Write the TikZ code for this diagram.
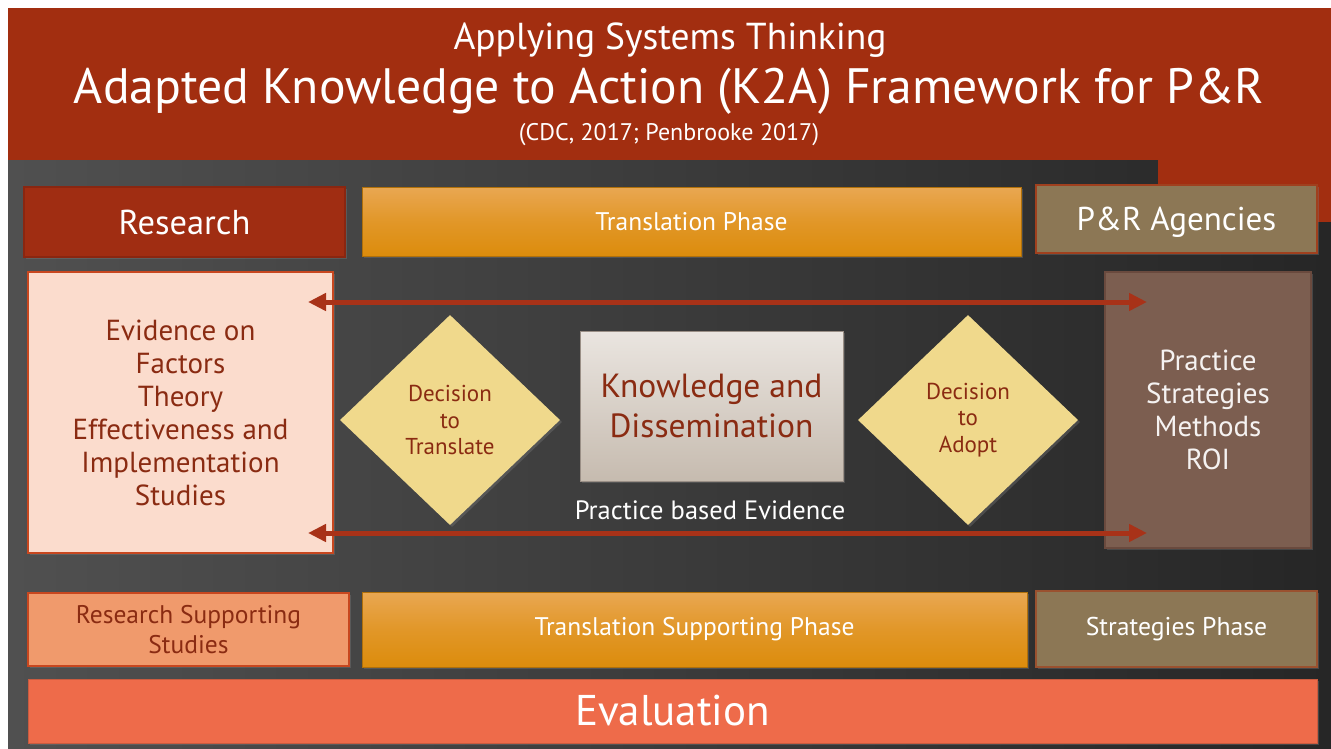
\documentclass[tikz,border=0pt]{standalone}
\usepackage{fontspec}
\setmainfont{PT Sans}
\usetikzlibrary{shapes.geometric,arrows.meta,shadows}
\definecolor{bannerred}{HTML}{A22E10}
\definecolor{resred}{HTML}{A02D12}
\definecolor{resborder}{HTML}{8A2610}
\definecolor{orangetop}{HTML}{E9A752}
\definecolor{orangebot}{HTML}{DC8C0C}
\definecolor{agency}{HTML}{8C7755}
\definecolor{agborder}{HTML}{A0401E}
\definecolor{evfill}{HTML}{FBDCCD}
\definecolor{evborder}{HTML}{C8471F}
\definecolor{practfill}{HTML}{7C5E50}
\definecolor{practborder}{HTML}{6A4A3E}
\definecolor{diam}{HTML}{F0D98C}
\definecolor{kntop}{HTML}{EAE5E0}
\definecolor{knbot}{HTML}{C6BBAF}
\definecolor{knborder}{HTML}{9A8F86}
\definecolor{darktext}{HTML}{8A2B12}
\definecolor{salmon}{HTML}{F09A6C}
\definecolor{evalfill}{HTML}{EE6B4A}
\definecolor{arrowred}{HTML}{A83218}
\definecolor{bgl}{HTML}{505050}
\definecolor{bgr}{HTML}{262626}
\tikzset{
  fs/.style n args={2}{font=\fontsize{#1}{#2}\selectfont},
  nodepth/.style={text depth=0pt},
  boxbase/.style={rectangle, inner sep=0pt, align=center, line width=1.2pt, drop shadow={opacity=0.35, shadow xshift=2pt, shadow yshift=-2pt}},
  redbox/.style={boxbase, fill=resred, draw=resborder, text=white},
  orangebox/.style={boxbase, top color=orangetop, bottom color=orangebot, middle color=orangebot!60!orangetop, draw=orangebot!80!black, line width=0.6pt, text=white},
  agencybox/.style={boxbase, fill=agency, draw=agborder, text=white},
  decision/.style={diamond, fill=diam, inner sep=0pt, minimum width=220pt, minimum height=210pt, align=center, text=darktext, fs={23}{26.5}},
  link/.style={draw=arrowred, line width=5pt, {Triangle[length=18pt,width=17pt]}-{Triangle[length=18pt,width=17pt]}, shorten <=-2pt, shorten >=-2pt},
}
\begin{document}
\begin{tikzpicture}[x=1pt,y=-1pt]
\fill[white] (0,0) rectangle (1331,748);
\useasboundingbox (0,0) rectangle (1331,748);
% dark background
\shade[left color=bgl, right color=bgr] (8,160) rectangle (1331,748);
% banner
\fill[bannerred] (8,8) rectangle (1331,160);
\fill[bannerred] (1158,159) rectangle (1331,222);
% titles
\node[text=white, fs={37.5}{42}] (t1) at (670,40) {Applying Systems Thinking};
\node[text=white, fs={49.7}{56}] (t2) at (669,91) {Adapted Knowledge to Action (K2A) Framework for P\&R};
\node[text=white, fs={24}{28}] (t3) at (669,135) {(CDC, 2017; Penbrooke 2017)};
% top row
\node[redbox, minimum width=321pt, minimum height=70pt, fs={34.5}{40}] (res) at (184.5,222) {Research};
\node[orangebox, minimum width=659pt, minimum height=69pt, fs={25.5}{30}] (tp) at (691.5,221.5) {Translation Phase};
\node[agencybox, nodepth, minimum width=281pt, minimum height=68pt, fs={33}{38}] (pr) at (1176.5,219) {P\&R Agencies};
% middle
\node[boxbase, fill=evfill, draw=evborder, minimum width=305pt, minimum height=281pt, text=darktext, fs={29}{33}] (ev) at (180.5,412.5) {Evidence on\\Factors\\Theory\\Effectiveness and\\Implementation\\Studies};
\node[boxbase, fill=practfill, draw=practborder, minimum width=206pt, minimum height=276pt, text=white!92!practfill, fs={29}{33}] (pa) at (1208,410) {Practice\\Strategies\\Methods\\ROI};
\node[decision, drop shadow={opacity=0.35, shadow xshift=2pt, shadow yshift=-2pt}] (dt) at (450,420) {Decision\\to\\Translate};
\node[decision, drop shadow={opacity=0.35, shadow xshift=2pt, shadow yshift=-2pt}] (da) at (968,420) {Decision\\to\\Adopt};
\node[boxbase, top color=kntop, bottom color=knbot, draw=knborder, line width=0.8pt, minimum width=263pt, minimum height=150pt, text=darktext, fs={33.5}{40}] (kn) at (711.5,406) {Knowledge and\\Dissemination};
\node[text=white, fs={26.5}{30}] (pbe) at (710,510) {Practice based Evidence};
% arrows
\coordinate (al1) at (310,302);
\coordinate (ar1) at (1145,302);
\coordinate (al2) at (310,533);
\coordinate (ar2) at (1145,533);
\draw[link] (al1) -- (ar1);
\draw[link] (al2) -- (ar2);
% bottom row
\node[boxbase, fill=salmon, draw=evborder, minimum width=321pt, minimum height=73pt, text=darktext, fs={25.5}{30}] (rs) at (188.5,629.5) {Research Supporting\\Studies};
\node[orangebox, minimum width=665pt, minimum height=75pt, fs={25.5}{30}] (tsp) at (694.5,629.5) {Translation Supporting Phase};
\node[agencybox, draw=agborder!70!agency, minimum width=281pt, minimum height=76pt, fs={25.7}{30}] (sp) at (1176.5,629) {Strategies Phase};
\node[boxbase, fill=evalfill, draw=evalfill!85!black, line width=0.6pt, minimum width=1289pt, minimum height=64pt, text=white, fs={43}{48}] (evl) at (672.5,711) {Evaluation};
\end{tikzpicture}
\end{document}
